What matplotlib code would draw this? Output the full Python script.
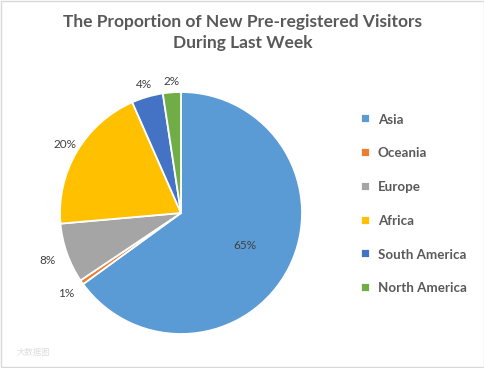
import numpy as np
import matplotlib.pyplot as plt
from matplotlib.patches import Rectangle

# Data
regions = ["Asia", "Oceania", "Europe", "Africa", "South America", "North America"]
shares = [65.0, 0.6, 8.0, 19.8, 4.2, 2.4]
pct_labels = ["65%", "1%", "8%", "20%", "4%", "2%"]
colors = ["#5B9BD5", "#ED7D31", "#A5A5A5", "#FFC000", "#4472C4", "#70AD47"]

# label distance from centre, in radii
label_dist = [0.59, 1.16, 1.17, 1.11, 1.11, 1.09]

text_color = "#595959"
plt.rcParams['font.family'] = ['Lato', 'DejaVu Sans']

fig = plt.figure(figsize=(4.85, 3.68), dpi=100)

# pie axes: centre (181, 213) px, radius 121 px
W, H = 485, 368
cx, cy, r = 181, 213, 121
ax = fig.add_axes([(cx - r) / W, (H - cy - r) / H, 2 * r / W, 2 * r / H])

wedges, _ = ax.pie(shares, colors=colors, startangle=90, counterclock=False,
                   wedgeprops=dict(edgecolor="white", linewidth=1.3))
ax.set_xlim(-1, 1)
ax.set_ylim(-1, 1)
ax.set_aspect("equal")
ax.axis("off")

for w, lab, d in zip(wedges, pct_labels, label_dist):
    mid = np.deg2rad((w.theta1 + w.theta2) / 2)
    ax.text(d * np.cos(mid), d * np.sin(mid), lab, ha="center", va="center",
            fontsize=8.5, color="#404040", clip_on=False)

fig.text(0.5, 0.962, "The Proportion of New Pre-registered Visitors\nDuring Last Week",
         ha="center", va="top", fontsize=12.5, fontweight="bold", color=text_color,
         linespacing=1.38)

fig.legend(wedges, regions, loc="upper left", bbox_to_anchor=(0.72, 0.724),
           frameon=False, prop=dict(size=9.6, weight="bold"),
           labelcolor=text_color,
           handlelength=0.66, handleheight=0.66, handletextpad=0.6,
           labelspacing=1.63)

fig.text(0.035, 0.035, "大数据图", fontsize=6, color="#dddddd",
         family=['Noto Sans CJK SC', 'DejaVu Sans'])

fig.patches.append(Rectangle((0.002, 0.003), 0.995, 0.994, transform=fig.transFigure,
                             fill=False, edgecolor="#d9d9d9", linewidth=1))

fig.savefig("out.png", dpi=100)
